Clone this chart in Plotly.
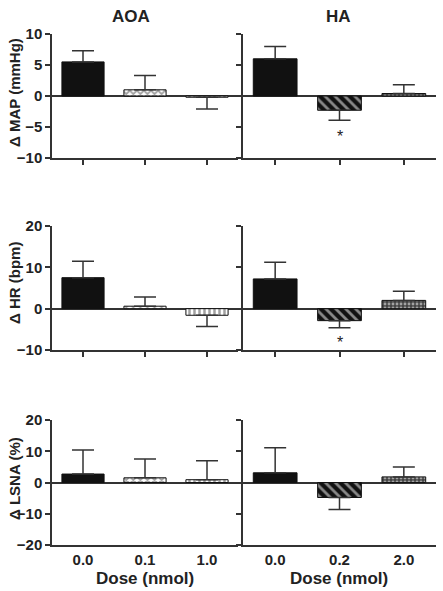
import plotly.graph_objects as go

aoa_doses = ["0.0", "0.1", "1.0"]
ha_doses = ["0.0", "0.2", "2.0"]

map_aoa = [5.5, 1.0, -0.2]
map_aoa_err = [1.8, 2.3, 1.9]
map_ha = [6.0, -2.3, 0.4]
map_ha_err = [2.0, 1.6, 1.4]

hr_aoa = [7.5, 0.6, -1.6]
hr_aoa_err = [4.0, 2.2, 2.7]
hr_ha = [7.2, -2.9, 2.0]
hr_ha_err = [4.0, 1.7, 2.2]

lsna_aoa = [2.7, 1.5, 0.9]
lsna_aoa_err = [7.7, 6.0, 6.1]
lsna_ha = [3.1, -4.8, 1.8]
lsna_ha_err = [8.0, 3.8, 3.2]

y_titles = ["\u0394 MAP (mmHg)", "\u0394 HR (bpm)", "\u0394 LSNA (%)"]
y_ranges = [[-10, 10], [-10, 20], [-20, 20]]
y_ticks = [[-10, -5, 0, 5, 10], [-10, 0, 10, 20], [-20, -10, 0, 10, 20]]

W, H = 443, 591
def py(p):
    return 1 - p / H
def px(p):
    return p / W

row_px = [(34, 158), (226, 350), (420, 545)]
row_dom = [[py(b), py(t)] for t, b in row_px]
col_dom = [[px(52), px(238)], [px(243), px(436)]]

FONT = "Liberation Sans"
AX = "#333333"
TXT = "#222222"

fig = go.Figure()

panels = [
    (map_aoa, map_aoa_err, map_ha, map_ha_err),
    (hr_aoa, hr_aoa_err, hr_ha, hr_ha_err),
    (lsna_aoa, lsna_aoa_err, lsna_ha, lsna_ha_err),
]

aoa_style = dict(color=["#111111", "white", "white"],
                 shape=["", "x", "|"], fg=["#111111", "#111111", "#111111"],
                 bg=["#111111", "white", "white"], sol=[0.4, 0.6, 0.5], size=[6, 5, 5])
ha_style = dict(color=["#111111", "#111111", "#444444"],
                shape=["", "\\", "."], fg=["#111111", "white", "#dddddd"],
                bg=["#111111", "#111111", "#444444"], sol=[0.4, 0.4, 0.4], size=[6, 7, 4])

layout_axes = {}
n = 0
for r, (a, ae, h, he) in enumerate(panels):
    for c, (vals, errs, cats, st) in enumerate([(a, ae, aoa_doses, aoa_style), (h, he, ha_doses, ha_style)]):
        n += 1
        xa = "x" if n == 1 else f"x{n}"
        ya = "y" if n == 1 else f"y{n}"
        up = [e if v >= 0 else 0 for v, e in zip(vals, errs)]
        dn = [e if v < 0 else 0 for v, e in zip(vals, errs)]
        fig.add_trace(go.Bar(
            x=cats, y=vals, width=0.68,
            marker=dict(color=st["color"], line=dict(color="#111111", width=1),
                        pattern=dict(shape=st["shape"], fgcolor=st["fg"], bgcolor=st["bg"],
                                     size=st["size"], solidity=st["sol"])),
            error_y=dict(type="data", symmetric=False, array=up, arrayminus=dn,
                         color=AX, thickness=1.5, width=11),
            xaxis=xa, yaxis=ya, showlegend=False, hoverinfo="skip",
        ))
        xk = "xaxis" if n == 1 else f"xaxis{n}"
        yk = "yaxis" if n == 1 else f"yaxis{n}"
        layout_axes[xk] = dict(
            domain=col_dom[c], anchor=ya, type="category", range=[-0.5, 2.5],
            showline=True, linecolor=AX, linewidth=1.5,
            ticks="" if r == 2 else "outside", ticklen=5,
            tickcolor=AX, tickwidth=1.5, showgrid=False, zeroline=False,
            showticklabels=(r == 2), automargin=False,
            tickfont=dict(family=FONT, size=15, color=TXT, weight="bold"),
        )
        layout_axes[yk] = dict(
            domain=row_dom[r], anchor=xa, range=y_ranges[r], tickvals=y_ticks[r],
            showline=True, linecolor=AX, linewidth=1.5, ticks="outside", ticklen=5,
            tickcolor=AX, tickwidth=1.5, showgrid=False,
            zeroline=True, zerolinecolor=AX, zerolinewidth=1.5,
            showticklabels=(c == 0), automargin=False,
            tickfont=dict(family=FONT, size=15, color=TXT, weight="bold"),
        )

fig.update_layout(**layout_axes)
ann_font = dict(family=FONT, size=17, color=TXT)
anns = [
    dict(text="<b>AOA</b>", x=px(131), y=py(16), xref="paper", yref="paper",
         xanchor="center", yanchor="middle", showarrow=False, font=ann_font),
    dict(text="<b>HA</b>", x=px(338), y=py(16), xref="paper", yref="paper",
         xanchor="center", yanchor="middle", showarrow=False, font=ann_font),
    dict(text="<b>Dose (nmol)</b>", x=px(145), y=py(578), xref="paper", yref="paper",
         xanchor="center", yanchor="middle", showarrow=False, font=ann_font),
    dict(text="<b>Dose (nmol)</b>", x=px(339), y=py(578), xref="paper", yref="paper",
         xanchor="center", yanchor="middle", showarrow=False, font=ann_font),
    dict(text="*", x=1, y=-6.6, xref="x2", yref="y2", showarrow=False,
         font=dict(family=FONT, size=16, color=TXT)),
    dict(text="*", x=1, y=-8.2, xref="x4", yref="y4", showarrow=False,
         font=dict(family=FONT, size=16, color=TXT)),
]
title_centers = [93, 283, 479]
for r, t in enumerate(y_titles):
    anns.append(dict(text=f"<b>{t}</b>", x=px(14), y=py(title_centers[r]),
                     xref="paper", yref="paper", xanchor="center", yanchor="middle",
                     textangle=-90, showarrow=False,
                     font=dict(family=FONT, size=15, color=TXT)))

fig.update_layout(
    width=W, height=H, margin=dict(l=0, r=0, t=0, b=0),
    plot_bgcolor="white", paper_bgcolor="white",
    font=dict(family=FONT, color=TXT),
    annotations=anns,
)

fig.write_html("out.html", config={"displayModeBar": False},
               post_script="document.body.style.margin='0';document.body.style.padding='0';")
